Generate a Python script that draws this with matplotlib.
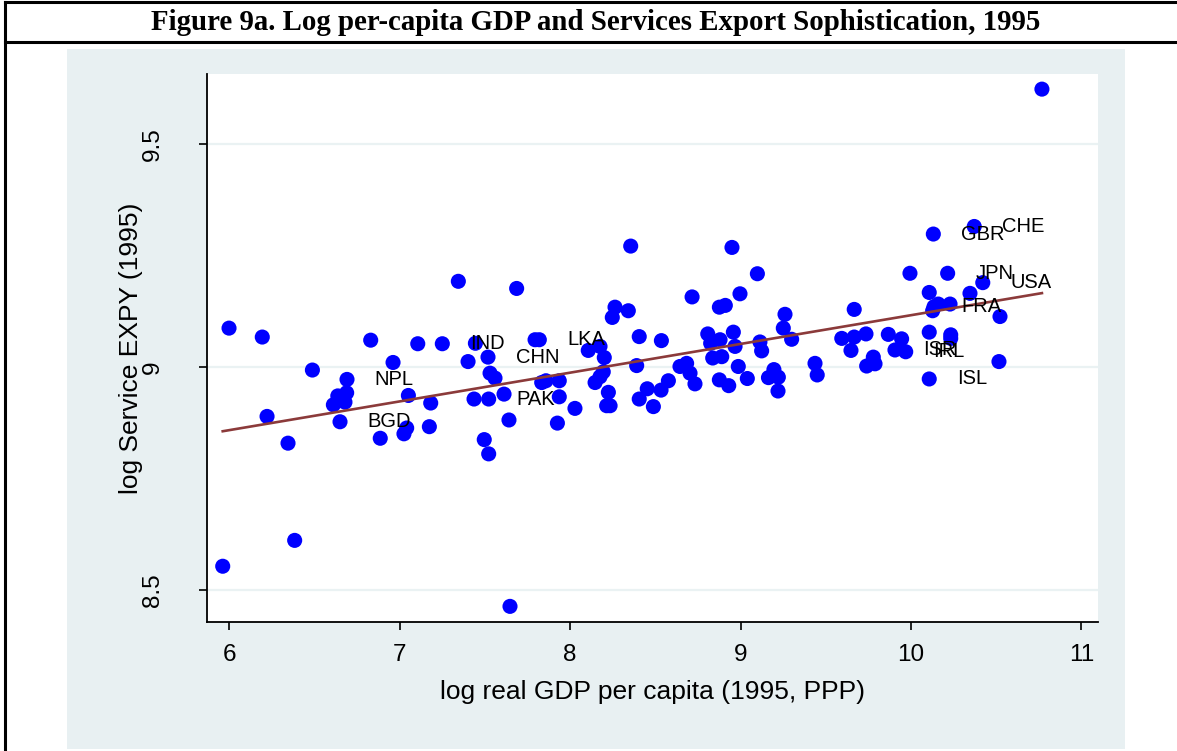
import numpy as np
import matplotlib.pyplot as plt
from matplotlib.patches import Rectangle
from matplotlib.lines import Line2D

plt.rcParams['font.family'] = ['Liberation Sans', 'DejaVu Sans']

# log real GDP per capita and log service EXPY, 1995 (unlabelled countries)
gdp = [5.963, 6.000, 6.195, 6.223, 6.346, 6.385, 6.489, 6.612, 6.638, 6.680,
       6.690, 6.831, 6.887, 6.962, 7.026, 7.042, 7.052, 7.107, 7.175, 7.183,
       7.345, 7.402, 7.437, 7.445, 7.497, 7.523, 7.531, 7.560, 7.613, 7.642,
       7.648, 7.687, 7.795, 7.834, 7.859, 7.937, 7.937, 7.926, 8.029, 8.107,
       8.147, 8.176, 8.176, 8.195, 8.201, 8.215, 8.235, 8.225, 8.248, 8.264,
       8.342, 8.356, 8.391, 8.406, 8.406, 8.453, 8.489, 8.534, 8.536, 8.577,
       8.645, 8.684, 8.704, 8.716, 8.733, 8.808, 8.825, 8.837, 8.876, 8.876,
       8.880, 8.890, 8.911, 8.931, 8.950, 8.958, 8.968, 8.987, 8.997, 9.040,
       9.099, 9.114, 9.124, 9.164, 9.196, 9.222, 9.220, 9.261, 9.251, 9.300,
       9.437, 9.450, 9.594, 9.648, 9.667, 9.667, 9.736, 9.740, 9.779, 9.789,
       9.867, 9.945, 9.994, 10.107, 10.107, 10.127, 10.160, 10.229, 10.233, 10.233,
       10.346, 10.516, 10.522, 10.768]
expy = [8.553, 9.087, 9.067, 8.889, 8.829, 8.611, 8.993, 8.915, 8.935, 8.921,
        8.942, 9.060, 8.840, 9.010, 8.850, 8.863, 8.936, 9.052, 8.866, 8.919,
        9.192, 9.012, 8.928, 9.053, 8.837, 8.805, 8.986, 8.975, 8.939, 8.881,
        8.463, 9.176, 9.061, 8.965, 8.969, 8.969, 8.933, 8.874, 8.907, 9.037,
        8.965, 9.046, 8.978, 8.989, 9.021, 8.913, 8.913, 8.943, 9.111, 9.134,
        9.126, 9.271, 9.003, 9.068, 8.928, 8.951, 8.911, 8.948, 9.059, 8.969,
        9.001, 9.008, 8.986, 9.157, 8.962, 9.074, 9.053, 9.020, 9.134, 8.971,
        9.061, 9.023, 9.138, 8.958, 9.268, 9.078, 9.046, 9.001, 9.164, 8.974,
        9.209, 9.056, 9.036, 8.976, 8.994, 8.977, 8.946, 9.118, 9.087, 9.062,
        9.008, 8.982, 9.064, 9.037, 9.129, 9.067, 9.074, 9.002, 9.022, 9.007,
        9.073, 9.063, 9.210, 9.167, 9.078, 9.126, 9.141, 9.141, 9.072, 9.064,
        9.165, 9.012, 9.113, 9.623]

# labelled countries
codes = ['BGD', 'NPL', 'IND', 'CHN', 'PAK', 'LKA', 'ISR', 'IRL', 'ISL',
         'GBR', 'FRA', 'JPN', 'CHE', 'USA']
codes_gdp = [6.651, 6.692, 7.251, 7.519, 7.523, 7.820, 9.906, 9.969, 10.107,
             10.131, 10.135, 10.215, 10.371, 10.421]
codes_expy = [8.877, 8.972, 9.052, 9.022, 8.928, 9.061, 9.038, 9.034, 8.973,
              9.298, 9.135, 9.210, 9.315, 9.189]

all_gdp = np.array(gdp + codes_gdp)
all_expy = np.array(expy + codes_expy)
slope, intercept = np.polyfit(all_gdp, all_expy, 1)
fit_x = np.array([all_gdp.min(), all_gdp.max()])

fig = plt.figure(figsize=(11.77, 7.51), dpi=100)

# frame of the figure box and title bar
fig.add_artist(Line2D([0.0045, 0.0045], [0, 0.997], color='black', lw=2.2))
fig.add_artist(Line2D([0.004, 1], [0.997, 0.997], color='black', lw=2.2))
fig.add_artist(Line2D([0.004, 1], [0.944, 0.944], color='black', lw=2.2))
fig.text(0.506, 0.970, 'Figure 9a. Log per-capita GDP and Services Export Sophistication, 1995',
         ha='center', va='center', fontsize=20.8, fontweight='bold',
         family='Liberation Serif')

# graph region background
fig.add_artist(Rectangle((0.0569, 0.0027), 0.8989, 0.932, facecolor='#E8F0F2',
                         edgecolor='none', zorder=0))

ax = fig.add_axes([0.1759, 0.1718, 0.7570, 0.7297])
ax.set_facecolor('white')
ax.set_xlim(5.871, 11.097)
ax.set_ylim(8.428, 9.657)

for s in ['top', 'right']:
    ax.spines[s].set_visible(False)
for s in ['left', 'bottom']:
    ax.spines[s].set_linewidth(1.3)

ax.set_xticks([6, 7, 8, 9, 10, 11])
ax.set_yticks([8.5, 9, 9.5])
ax.set_yticklabels(['8.5', '9', '9.5'], rotation=90, va='center')
ax.tick_params(axis='both', direction='out', length=6, width=1.2, labelsize=17.5)
ax.tick_params(axis='x', pad=10)
ax.tick_params(axis='y', pad=25)
ax.grid(axis='y', color='#EAF2F3', lw=1.6)
ax.set_axisbelow(True)

ax.scatter(all_gdp, all_expy, s=118, color='#0000FF', edgecolors='none', zorder=3)
ax.plot(fit_x, intercept + slope * fit_x, color='#8B3A3A', lw=1.9, zorder=4)

for c, x, y in zip(codes, codes_gdp, codes_expy):
    ax.annotate(c, (x, y), xytext=(20, 0), textcoords='offset points',
                ha='left', va='center', fontsize=14.5, zorder=5)

ax.set_xlabel('log real GDP per capita (1995, PPP)', fontsize=19, labelpad=10)
ax.set_ylabel('log Service EXPY (1995)', fontsize=19, labelpad=-1)

fig.savefig('out.png', dpi=100)
